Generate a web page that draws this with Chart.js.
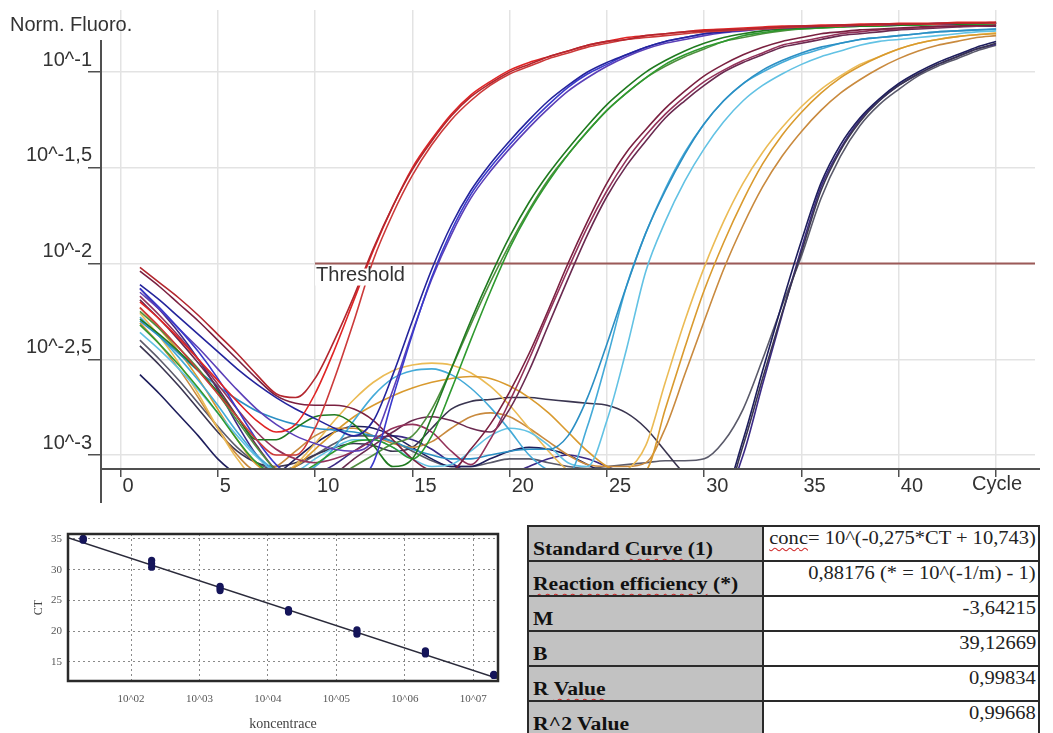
<!DOCTYPE html>
<html>
<head>
<meta charset="utf-8">
<script src="https://cdn.jsdelivr.net/npm/chart.js@4.4.0/dist/chart.umd.min.js"></script>
<style>
  html,body{margin:0;padding:0;background:#fff;}
  body{width:1053px;height:733px;overflow:hidden;position:relative;}
  #ytitle{position:absolute;left:10px;top:14px;font:20px "Liberation Sans",Arial,sans-serif;color:#333;line-height:20px;z-index:2;}
  #main{position:absolute;left:0;top:0;}
  #std{position:absolute;left:20px;top:515px;}
  #tbl{position:absolute;left:527px;top:525px;border-collapse:collapse;}
  #tbl td{border:2px solid #2a2a2a;height:33px;padding:0;line-height:20px;white-space:nowrap;overflow:hidden;}
  #tbl td.l{width:229px;background:#c2c2c2;vertical-align:bottom;font:bold 18px "Liberation Serif","Times New Roman",serif;color:#111;padding-left:4px;}
  #tbl td.r{width:272px;background:#fff;vertical-align:top;text-align:right;font:19px "Liberation Serif","Times New Roman",serif;color:#222;padding-right:2px;}
  #tbl td.l span.t{display:inline-block;transform:scaleX(1.2);transform-origin:left center;}
  #tbl td.r span.t{display:inline-block;transform:scaleX(1.08);transform-origin:right center;}
  .sp{text-decoration:underline wavy #d02a2a;text-decoration-thickness:1px;text-underline-offset:3px;}
</style>
</head>
<body>
<canvas id="main" width="1053" height="510"></canvas>
<div id="ytitle">Norm. Fluoro.</div>
<canvas id="std" width="500" height="218"></canvas>
<table id="tbl"></table>
<script>
// ---------------- main amplification plot (values = log10 of normalised fluorescence) -------------
const cycles = [1,2,3,4,5,6,7,8,9,10,11,12,13,14,15,16,17,18,19,20,21,22,23,24,25,26,27,28,29,30,31,32,33,34,35,36,37,38,39,40,41,42,43,44,45];

const red1 = [-2.02,-2.10,-2.18,-2.27,-2.37,-2.47,-2.58,-2.68,-2.70,-2.60,-2.40,-2.17,-1.92,-1.70,-1.51,
  -1.36,-1.23,-1.13,-1.06,-1.00,-0.96,-0.92,-0.89,-0.86,-0.84,-0.83,-0.81,-0.80,-0.79,-0.785,
  -0.78,-0.775,-0.77,-0.765,-0.76,-0.76,-0.755,-0.755,-0.75,-0.75,-0.75,-0.745,-0.745,-0.745,-0.74];
const red2 = [-2.20,-2.29,-2.39,-2.50,-2.61,-2.72,-2.82,-2.88,-2.84,-2.68,-2.45,-2.19,-1.93,-1.70,-1.50,
  -1.35,-1.22,-1.12,-1.05,-0.99,-0.95,-0.92,-0.89,-0.86,-0.84,-0.82,-0.81,-0.80,-0.79,-0.78,
  -0.775,-0.77,-0.765,-0.76,-0.76,-0.755,-0.755,-0.75,-0.75,-0.745,-0.745,-0.745,-0.74,-0.74,-0.74];
const red3 = [-2.23,-2.33,-2.44,-2.56,-2.68,-2.80,-2.92,-3.00,-3.00,-2.86,-2.60,-2.30,-1.98,-1.74,-1.54,
  -1.38,-1.25,-1.15,-1.07,-1.01,-0.97,-0.93,-0.90,-0.87,-0.85,-0.83,-0.82,-0.81,-0.80,-0.79,
  -0.785,-0.78,-0.775,-0.77,-0.765,-0.76,-0.76,-0.755,-0.755,-0.75,-0.75,-0.75,-0.745,-0.745,-0.745];

const blue1 = [-2.11,-2.19,-2.28,-2.37,-2.46,-2.55,-2.63,-2.70,-2.76,-2.81,-2.86,-2.90,-2.82,-2.58,-2.30,
  -2.03,-1.80,-1.62,-1.48,-1.36,-1.25,-1.15,-1.07,-1.00,-0.95,-0.91,-0.87,-0.84,-0.82,-0.80,
  -0.79,-0.78,-0.775,-0.77,-0.765,-0.76,-0.76,-0.755,-0.755,-0.75,-0.75,-0.75,-0.745,-0.745,-0.745];
const blue2 = [-2.13,-2.23,-2.34,-2.46,-2.60,-2.76,-2.92,-3.05,-3.12,-3.15,-3.16,-3.14,-3.04,-2.70,-2.37,
  -2.07,-1.83,-1.64,-1.50,-1.38,-1.27,-1.17,-1.08,-1.01,-0.96,-0.91,-0.87,-0.84,-0.82,-0.80,
  -0.79,-0.78,-0.77,-0.765,-0.76,-0.76,-0.755,-0.755,-0.75,-0.75,-0.75,-0.745,-0.745,-0.745,-0.745];
const blue3 = [-2.15,-2.24,-2.34,-2.44,-2.55,-2.66,-2.76,-2.84,-2.90,-2.94,-2.97,-2.98,-2.92,-2.66,-2.36,
  -2.08,-1.85,-1.66,-1.52,-1.40,-1.29,-1.19,-1.10,-1.03,-0.97,-0.92,-0.88,-0.85,-0.83,-0.81,
  -0.795,-0.785,-0.775,-0.77,-0.765,-0.76,-0.76,-0.755,-0.755,-0.75,-0.75,-0.75,-0.745,-0.745,-0.745];

const green1 = [-2.29,-2.37,-2.46,-2.56,-2.67,-2.80,-2.92,-2.92,-2.86,-2.80,-2.79,-2.84,-2.95,-3.06,-3.02,
  -2.80,-2.55,-2.30,-2.07,-1.86,-1.68,-1.53,-1.40,-1.28,-1.17,-1.08,-1.00,-0.94,-0.89,-0.85,
  -0.82,-0.80,-0.785,-0.775,-0.77,-0.765,-0.76,-0.76,-0.755,-0.755,-0.75,-0.75,-0.75,-0.745,-0.745];
const green2 = [-2.32,-2.42,-2.53,-2.65,-2.78,-2.92,-3.04,-3.10,-3.10,-3.05,-2.98,-2.93,-2.92,-2.96,-3.02,
  -2.90,-2.66,-2.40,-2.15,-1.92,-1.73,-1.57,-1.43,-1.31,-1.20,-1.11,-1.03,-0.96,-0.91,-0.87,
  -0.84,-0.81,-0.795,-0.78,-0.775,-0.77,-0.765,-0.76,-0.76,-0.755,-0.755,-0.75,-0.75,-0.75,-0.745];
const green3 = [-2.25,-2.34,-2.44,-2.55,-2.68,-2.82,-2.96,-3.08,-3.14,-3.15,-3.12,-3.06,-3.00,-2.94,-2.90,
  -2.76,-2.55,-2.32,-2.10,-1.90,-1.72,-1.56,-1.43,-1.31,-1.20,-1.11,-1.03,-0.97,-0.92,-0.88,
  -0.84,-0.82,-0.80,-0.785,-0.775,-0.77,-0.765,-0.76,-0.76,-0.755,-0.755,-0.75,-0.75,-0.75,-0.745];

const maroon1 = [-2.04,-2.12,-2.21,-2.30,-2.40,-2.50,-2.60,-2.69,-2.73,-2.74,-2.74,-2.76,-2.82,-2.92,-3.02,
  -3.08,-3.08,-2.97,-2.84,-2.67,-2.47,-2.24,-2.00,-1.78,-1.58,-1.42,-1.30,-1.19,-1.10,-1.02,
  -0.96,-0.91,-0.87,-0.84,-0.82,-0.80,-0.79,-0.78,-0.775,-0.77,-0.765,-0.76,-0.76,-0.755,-0.755];
const maroon2 = [-2.17,-2.27,-2.38,-2.50,-2.63,-2.76,-2.88,-2.97,-3.02,-3.04,-3.02,-2.98,-2.92,-2.86,-2.84,
  -2.88,-2.98,-3.05,-2.92,-2.72,-2.50,-2.26,-2.03,-1.81,-1.62,-1.46,-1.33,-1.22,-1.13,-1.05,
  -0.99,-0.94,-0.90,-0.86,-0.84,-0.82,-0.80,-0.79,-0.78,-0.775,-0.77,-0.765,-0.76,-0.76,-0.755];
const maroon3 = [-2.19,-2.29,-2.40,-2.52,-2.65,-2.80,-2.95,-3.08,-3.15,-3.15,-3.10,-3.02,-2.95,-2.88,-2.82,
  -2.80,-2.82,-2.86,-2.88,-2.76,-2.56,-2.32,-2.08,-1.85,-1.65,-1.49,-1.36,-1.24,-1.15,-1.07,
  -1.00,-0.95,-0.91,-0.87,-0.85,-0.83,-0.81,-0.80,-0.79,-0.78,-0.775,-0.77,-0.765,-0.76,-0.76];

const cyan1 = [-2.30,-2.38,-2.47,-2.56,-2.64,-2.71,-2.77,-2.81,-2.84,-2.86,-2.87,-2.88,-2.90,-2.93,-2.97,
  -3.00,-3.02,-3.02,-3.00,-2.98,-2.97,-2.97,-2.90,-2.70,-2.42,-2.12,-1.84,-1.62,-1.43,-1.27,
  -1.15,-1.06,-0.99,-0.94,-0.90,-0.87,-0.85,-0.83,-0.82,-0.81,-0.80,-0.79,-0.785,-0.78,-0.775];
const cyan2 = [-2.28,-2.38,-2.49,-2.61,-2.74,-2.88,-3.00,-3.08,-3.10,-3.06,-2.96,-2.82,-2.69,-2.60,-2.56,
  -2.55,-2.58,-2.65,-2.75,-2.87,-3.00,-3.08,-3.10,-2.85,-2.50,-2.12,-1.84,-1.61,-1.42,-1.27,
  -1.15,-1.06,-1.00,-0.95,-0.91,-0.88,-0.85,-0.83,-0.82,-0.81,-0.80,-0.79,-0.785,-0.78,-0.775];
const cyan3 = [-2.36,-2.45,-2.55,-2.66,-2.78,-2.90,-3.01,-3.08,-3.08,-3.02,-2.96,-2.92,-2.92,-2.96,-3.02,
  -3.06,-3.05,-2.98,-2.90,-2.86,-2.88,-2.95,-3.04,-3.06,-2.82,-2.45,-2.04,-1.78,-1.57,-1.40,
  -1.26,-1.15,-1.07,-1.01,-0.96,-0.92,-0.89,-0.86,-0.84,-0.83,-0.82,-0.81,-0.80,-0.79,-0.785];

const orange1 = [-2.23,-2.34,-2.46,-2.60,-2.76,-2.92,-3.05,-3.10,-3.06,-2.97,-2.88,-2.80,-2.74,-2.69,-2.65,
  -2.62,-2.60,-2.59,-2.60,-2.64,-2.70,-2.78,-2.88,-2.98,-3.06,-3.10,-3.08,-2.76,-2.44,-2.14,
  -1.89,-1.67,-1.48,-1.33,-1.21,-1.11,-1.03,-0.97,-0.92,-0.88,-0.85,-0.83,-0.815,-0.805,-0.80];
const orange2 = [-2.26,-2.38,-2.52,-2.68,-2.86,-3.02,-3.12,-3.12,-3.05,-2.94,-2.82,-2.71,-2.62,-2.56,-2.53,
  -2.52,-2.53,-2.57,-2.64,-2.74,-2.86,-2.98,-3.08,-3.12,-3.12,-3.08,-2.95,-2.62,-2.30,-2.02,
  -1.78,-1.58,-1.42,-1.29,-1.18,-1.09,-1.02,-0.96,-0.92,-0.88,-0.85,-0.83,-0.815,-0.805,-0.795];
const orange3 = [-2.31,-2.42,-2.55,-2.70,-2.86,-3.00,-3.08,-3.06,-2.98,-2.90,-2.86,-2.86,-2.90,-2.94,-2.96,
  -2.93,-2.86,-2.80,-2.78,-2.80,-2.86,-2.93,-3.00,-3.05,-3.06,-3.06,-3.04,-2.86,-2.58,-2.30,
  -2.03,-1.80,-1.60,-1.44,-1.31,-1.20,-1.11,-1.04,-0.98,-0.93,-0.89,-0.86,-0.84,-0.82,-0.81];

const navy1 = [-2.58,-2.68,-2.79,-2.90,-3.02,-3.10,-3.12,-3.10,-3.02,-2.94,-2.88,-2.85,-2.86,-2.90,-2.96,
  -3.02,-3.06,-3.06,-3.02,-2.98,-2.96,-2.97,-3.00,-3.05,-3.10,-3.14,-3.16,-3.18,-3.20,-3.22,
  -3.20,-2.92,-2.56,-2.21,-1.88,-1.58,-1.38,-1.24,-1.14,-1.06,-1.00,-0.95,-0.91,-0.87,-0.84];
const navy2 = [-2.43,-2.53,-2.64,-2.76,-2.88,-2.98,-3.04,-3.06,-3.04,-3.00,-2.96,-2.94,-2.95,-2.98,-2.96,
  -2.86,-2.76,-2.72,-2.71,-2.70,-2.70,-2.71,-2.72,-2.73,-2.74,-2.78,-2.86,-2.98,-3.10,-3.18,
  -3.22,-2.95,-2.60,-2.26,-1.94,-1.62,-1.41,-1.26,-1.15,-1.07,-1.01,-0.96,-0.92,-0.88,-0.85];
const navy3 = [-2.13,-2.24,-2.36,-2.50,-2.66,-2.84,-3.00,-3.10,-3.12,-3.10,-3.05,-2.98,-2.92,-2.90,-2.92,
  -2.97,-3.04,-3.10,-3.12,-3.10,-3.06,-3.02,-3.00,-3.02,-3.06,-3.10,-3.14,-3.18,-3.20,-3.22,
  -3.22,-3.00,-2.63,-2.27,-1.92,-1.60,-1.40,-1.25,-1.15,-1.07,-1.01,-0.96,-0.92,-0.88,-0.855];
const navy4 = [-2.40,-2.50,-2.61,-2.73,-2.85,-2.96,-3.04,-3.08,-3.06,-3.00,-2.94,-2.90,-2.90,-2.93,-2.98,
  -3.03,-3.06,-3.06,-3.04,-3.02,-3.02,-3.04,-3.06,-3.07,-3.06,-3.05,-3.04,-3.03,-3.03,-3.02,
  -2.93,-2.76,-2.50,-2.22,-1.96,-1.66,-1.44,-1.28,-1.17,-1.09,-1.02,-0.97,-0.93,-0.89,-0.86];

const thresholdCycles = [10, 47];
const thresholdLevel = [-2, -2];
const thresholdLabel = 'Threshold';

const xTickValues = [0,5,10,15,20,25,30,35,40,45];
const xTickLabels = ['0','5','10','15','20','25','30','35','40',''];
const xAxisName = 'Cycle';
const yTickValues = [-3,-2.5,-2,-1.5,-1];
const yTickLabels = ['10^-3','10^-2,5','10^-2','10^-1,5','10^-1'];

// ---------------- standard curve ----------------
const concentrations = [2e1,2e2,2e3,2e4,2e5,2e6,2e7];
const ctRep1 = [34.8,30.4,26.6,23.1,19.5,16.3,12.8];
const ctRep2 = [35.0,31.0,27.0,23.3,19.9,16.6,12.9];
const ctRep3 = [35.1,31.5,27.3,23.5,20.2,16.8,13.0];
const fitConc = [12, 2.3e7];
const fitCt = [35.2, 12.3];
const concTickValues = [1e2,1e3,1e4,1e5,1e6,1e7];
const concTickLabels = ['10^02','10^03','10^04','10^05','10^06','10^07'];
const ctTickValues = [15,20,25,30,35];

// ---------------- table ----------------
const statNames = ['Standard Curve (1)','Reaction efficiency (*)','M','B','R Value','R^2 Value'];
const statValues = ['conc= 10^(-0,275*CT + 10,743)','0,88176 (* = 10^(-1/m) - 1)','-3,64215','39,12669','0,99834','0,99668'];
const spellMarked = ['Reaction efficiency','Curve','Value','conc'];

// =====================================================================
const SANS = '"Liberation Sans", Arial, sans-serif';
const SERIF = '"Liberation Serif", "Times New Roman", serif';

const series = [
  ['red1',red1,'#b3262e'],['red2',red2,'#e02424'],['red3',red3,'#cc3a3a'],
  ['blue1',blue1,'#24249c'],['blue2',blue2,'#3a3acc'],['blue3',blue3,'#5b3fb8'],
  ['green1',green1,'#1f7a1f'],['green2',green2,'#2f9a2f'],['green3',green3,'#4f8f3f'],
  ['maroon1',maroon1,'#7a2040'],['maroon2',maroon2,'#93325a'],['maroon3',maroon3,'#6a2a50'],
  ['cyan1',cyan1,'#2b8fc4'],['cyan2',cyan2,'#44aad8'],['cyan3',cyan3,'#62c2e4'],
  ['orange1',orange1,'#d99a2e'],['orange2',orange2,'#ebbb55'],['orange3',orange3,'#c98a3e'],
  ['navy1',navy1,'#1e1e5c'],['navy2',navy2,'#3a3550'],['navy3',navy3,'#3c2a86'],['navy4',navy4,'#5a5a6a']
];

const datasets = series.map(([name, vals, col]) => ({
  label: name,
  data: vals.map((v, i) => ({x: cycles[i], y: v})),
  borderColor: col,
  borderWidth: 1.6,
  pointRadius: 0,
  cubicInterpolationMode: 'monotone',
  fill: false
}));
datasets.push({
  label: 'threshold',
  data: thresholdCycles.map((c, i) => ({x: c, y: thresholdLevel[i]})),
  borderColor: '#9c5a58',
  borderWidth: 2,
  pointRadius: 0,
  fill: false
});

const mainDecor = {
  id: 'mainDecor',
  afterDraw(chart) {
    const {ctx, chartArea: a, scales: {x, y}} = chart;
    ctx.save();
    ctx.strokeStyle = '#505050';
    ctx.lineWidth = 2;
    ctx.beginPath();
    ctx.moveTo(a.left, a.top + 30); ctx.lineTo(a.left, a.bottom + 34);
    ctx.moveTo(a.left, a.bottom); ctx.lineTo(a.right + 5, a.bottom);
    ctx.stroke();
    ctx.font = '20px ' + SANS;
    ctx.textBaseline = 'top';
    ctx.textAlign = 'left';
    const tx = x.getPixelForValue(thresholdCycles[0]) + 1;
    const ty = y.getPixelForValue(thresholdLevel[0]) + 2;
    const w = ctx.measureText(thresholdLabel).width;
    ctx.fillStyle = '#fff';
    ctx.fillRect(tx - 1, ty + 3, w + 2, 17);
    ctx.fillStyle = '#333';
    ctx.fillText(thresholdLabel, tx, ty);
    ctx.fillText(xAxisName, x.getPixelForValue(xTickValues[xTickValues.length - 1]) - 24, a.bottom + 5);
    ctx.restore();
  }
};

new Chart(document.getElementById('main'), {
  type: 'line',
  data: {datasets},
  plugins: [mainDecor],
  options: {
    responsive: false,
    animation: false,
    devicePixelRatio: 1,
    layout: {padding: {top: 10, right: 18, left: 0, bottom: 0}},
    plugins: {legend: {display: false}, tooltip: {enabled: false}},
    scales: {
      x: {
        type: 'linear', min: -1, max: 47,
        afterBuildTicks: s => { s.ticks = xTickValues.map(v => ({value: v})); },
        afterFit: s => { s.height = 41; },
        grid: {color: '#e3e3e3', lineWidth: 1.5, tickColor: '#505050', tickWidth: 1.5, tickLength: 8},
        border: {display: false},
        ticks: {align: 'start', labelOffset: 2, padding: -3, color: '#333', font: {family: SANS, size: 20},
                autoSkip: false, maxRotation: 0, callback: (v, i) => xTickLabels[i]}
      },
      y: {
        type: 'linear', min: -3.073, max: -0.676,
        afterBuildTicks: s => { s.ticks = yTickValues.map(v => ({value: v})); },
        afterFit: s => { s.width = 101; },
        grid: {color: '#e3e3e3', lineWidth: 1.5, tickColor: '#505050', tickWidth: 1.5, tickLength: 13},
        border: {display: false},
        ticks: {padding: -4, labelOffset: -12, color: '#333', font: {family: SANS, size: 20},
                autoSkip: false, callback: (v, i) => yTickLabels[i]}
      }
    }
  }
});

// ---------------- standard curve chart ----------------
const stdPoints = [];
[ctRep1, ctRep2, ctRep3].forEach(rep => rep.forEach((ct, i) => stdPoints.push({x: concentrations[i], y: ct})));

const frame = {
  id: 'frame',
  afterDraw(chart) {
    const {ctx, chartArea: a} = chart;
    ctx.save();
    ctx.strokeStyle = '#2a2a2a';
    ctx.lineWidth = 2.5;
    ctx.strokeRect(a.left, a.top, a.right - a.left, a.bottom - a.top);
    ctx.restore();
  }
};

new Chart(document.getElementById('std'), {
  type: 'scatter',
  data: {
    datasets: [
      {label: 'CT', data: stdPoints, backgroundColor: '#15155a', borderColor: '#15155a', pointRadius: 3.6, pointBorderWidth: 0},
      {type: 'line', label: 'fit', data: fitConc.map((c, i) => ({x: c, y: fitCt[i]})),
       borderColor: '#2a2a3a', borderWidth: 1.6, pointRadius: 0, fill: false}
    ]
  },
  plugins: [frame],
  options: {
    responsive: false,
    animation: false,
    devicePixelRatio: 1,
    layout: {padding: {top: 19, right: 22, left: 0, bottom: 0}},
    plugins: {legend: {display: false}, tooltip: {enabled: false}},
    scales: {
      x: {
        type: 'logarithmic', min: 12, max: 2.3e7,
        afterBuildTicks: s => { s.ticks = concTickValues.map(v => ({value: v})); },
        afterFit: s => { s.height = 52; },
        grid: {color: '#8a8a8a', lineWidth: 1, drawTicks: false},
        border: {display: false, dash: [2, 3]},
        ticks: {padding: 12, color: '#555', font: {family: SERIF, size: 11}, autoSkip: false, maxRotation: 0,
                callback: (v, i) => concTickLabels[i]},
        title: {display: true, text: 'koncentrace', color: '#444', font: {family: SERIF, size: 14}, padding: {top: 0, bottom: 0}}
      },
      y: {
        min: 11.9, max: 35.8,
        afterBuildTicks: s => { s.ticks = ctTickValues.map(v => ({value: v})); },
        afterFit: s => { s.width = 48; },
        grid: {color: '#8a8a8a', lineWidth: 1, drawTicks: false},
        border: {display: false, dash: [2, 3]},
        ticks: {padding: 6, color: '#555', font: {family: SERIF, size: 11}, autoSkip: false,
                callback: v => String(v)},
        title: {display: true, text: 'CT', color: '#444', font: {family: SERIF, size: 12}, padding: {top: 12, bottom: 0}}
      }
    }
  }
});

// ---------------- table ----------------
function markSpelling(text) {
  let html = text.replace(/&/g, '&amp;').replace(/</g, '&lt;');
  spellMarked.forEach(w => {
    if (html.indexOf(w) !== -1 && html.indexOf('class="sp"') === -1) {
      html = html.replace(w, '<span class="sp">' + w + '</span>');
    }
  });
  return html;
}
const tbl = document.getElementById('tbl');
statNames.forEach((name, i) => {
  const tr = document.createElement('tr');
  const l = document.createElement('td');
  l.className = 'l';
  l.innerHTML = '<span class="t">' + markSpelling(name) + '</span>';
  const r = document.createElement('td');
  r.className = 'r';
  r.innerHTML = '<span class="t">' + markSpelling(statValues[i]) + '</span>';
  tr.appendChild(l); tr.appendChild(r);
  tbl.appendChild(tr);
});
</script>
</body>
</html>
